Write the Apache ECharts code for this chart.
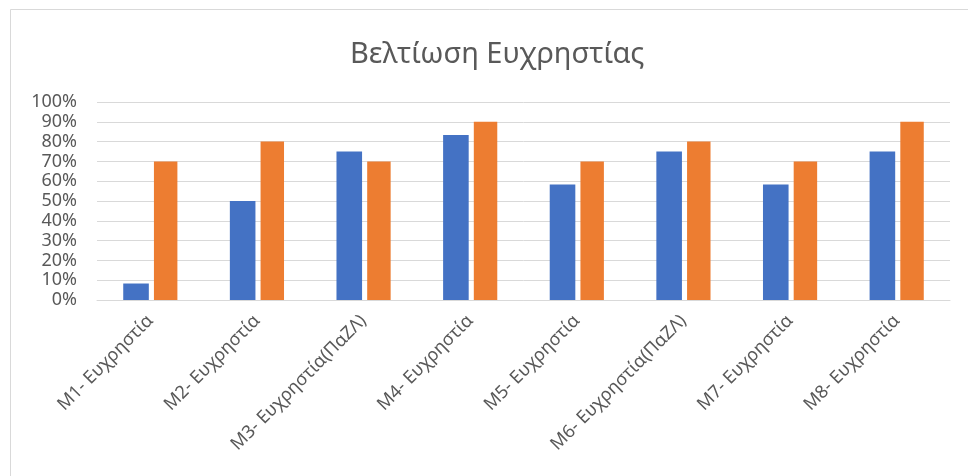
<!DOCTYPE html>
<html>
<head>
<meta charset="utf-8">
<script src="https://cdn.jsdelivr.net/npm/echarts@6/dist/echarts.min.js"></script>
<style>
  html, body { margin: 0; padding: 0; background: #fff; }
  #main { width: 968px; height: 476px; }
</style>
</head>
<body>
<div id="main"></div>
<script>
var categories = ['M1- Ευχρηστία', 'M2- Ευχρηστία', 'M3- Ευχρηστία(ΠαΖΛ)', 'M4- Ευχρηστία',
                  'M5- Ευχρηστία', 'M6- Ευχρηστία(ΠαΖΛ)', 'M7- Ευχρηστία', 'M8- Ευχρηστία'];
var series1 = [8.33, 50, 75, 83.33, 58.33, 75, 58.33, 75];
var series2 = [70, 80, 70, 90, 70, 80, 70, 90];

var myChart = echarts.init(document.getElementById('main'));

option = {
    backgroundColor: '#fff',
    textStyle: { fontFamily: 'Noto Sans' },
    title: {
        text: 'Βελτίωση Ευχρηστίας',
        left: 345,
        top: 35,
        textStyle: { fontSize: 29, fontWeight: 'normal', color: '#595959', fontFamily: 'Noto Sans' }
    },
    graphic: [{
        type: 'rect',
        shape: { x: 10.5, y: 9.5, width: 1000, height: 600 },
        style: { fill: 'none', stroke: '#d9d9d9', lineWidth: 1 }
    }],
    grid: { left: 97, right: 18, top: 102, bottom: 176 },
    xAxis: {
        type: 'category',
        data: categories,
        axisTick: { show: false },
        axisLine: { lineStyle: { color: '#d9d9d9' } },
        axisLabel: { rotate: 45, interval: 0, fontSize: 18, color: '#595959', margin: 18 }
    },
    yAxis: {
        type: 'value',
        min: 0,
        max: 100,
        interval: 10,
        axisLabel: { formatter: '{value}%', fontSize: 18, color: '#595959', margin: 20 },
        splitLine: { lineStyle: { color: '#d9d9d9' } }
    },
    series: [
        {
            name: 'Σειρά 1',
            type: 'bar',
            data: series1,
            barWidth: '24%',
            barGap: '20%',
            itemStyle: { color: '#4472C4' }
        },
        {
            name: 'Σειρά 2',
            type: 'bar',
            data: series2,
            barWidth: '22%',
            itemStyle: { color: '#ED7D31' }
        }
    ]
};
myChart.setOption(option);
</script>
</body>
</html>
